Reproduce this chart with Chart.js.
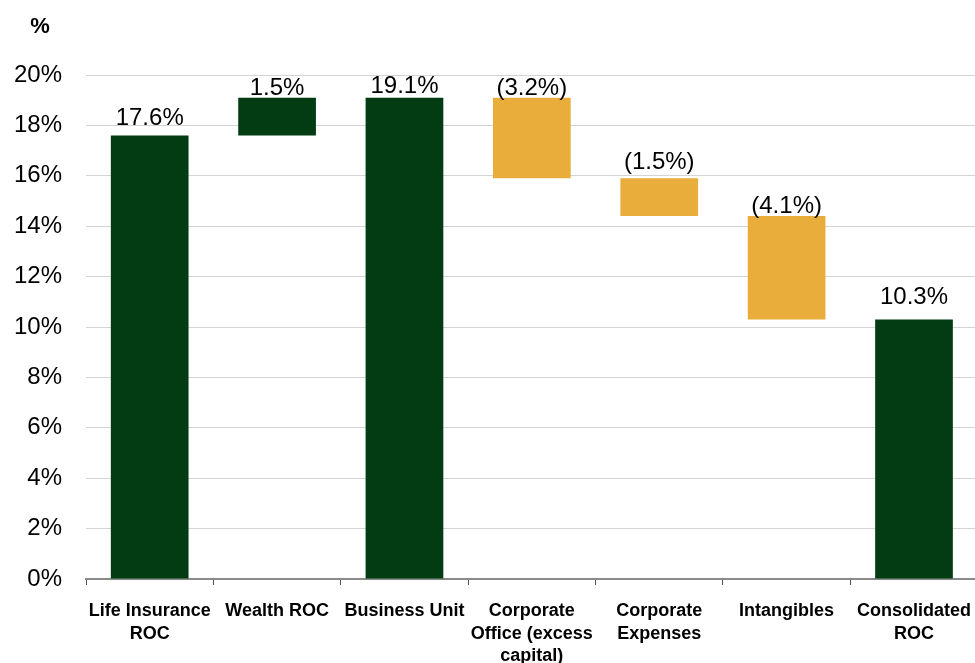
<!DOCTYPE html>
<html>
<head>
<meta charset="utf-8">
<script src="https://cdn.jsdelivr.net/npm/chart.js@4"></script>
<style>
  html, body { margin: 0; padding: 0; background: #fff; overflow: hidden; }
  canvas { display: block; }
</style>
</head>
<body>
<canvas id="c" width="986" height="663"></canvas>
<script>
// ROC bridge: segment contributions stepping to the consolidated figure
const categories = [
  ['Life Insurance', 'ROC'],
  ['Wealth ROC'],
  ['Business Unit'],
  ['Corporate', 'Office (excess', 'capital)'],
  ['Corporate', 'Expenses'],
  ['Intangibles'],
  ['Consolidated', 'ROC']
];
const values  = [17.6, 1.5, 19.1, -3.2, -1.5, -4.1, 10.3];
const isTotal = [true, false, true, false, false, false, true];
const yTicks  = [0, 2, 4, 6, 8, 10, 12, 14, 16, 18, 20];

// label lift above each bar top, in px
const labelGap = [10, 3, 5, 3, 9, 3, 15];

const GREEN = '#033c12';
const GOLD  = '#e8ad3b';
const FONT  = '"Liberation Sans", Arial, sans-serif';

// floating [start, end] ranges from the running total
const ranges = [];
let running = 0;
values.forEach((v, i) => {
  if (isTotal[i]) { ranges.push([0, v]); running = v; }
  else { ranges.push([running, running + v]); running += v; }
});
const colors = values.map(v => v < 0 ? GOLD : GREEN);
const fmt = v => v < 0 ? '(' + Math.abs(v).toFixed(1) + '%)' : v.toFixed(1) + '%';

const valueLabels = {
  id: 'valueLabels',
  afterDatasetsDraw(chart) {
    const ctx = chart.ctx;
    const meta = chart.getDatasetMeta(0);
    ctx.save();
    ctx.font = '24px ' + FONT;
    ctx.fillStyle = '#000';
    ctx.textAlign = 'center';
    ctx.textBaseline = 'alphabetic';
    meta.data.forEach((el, i) => {
      const top = Math.min(el.y, el.base);
      ctx.fillText(fmt(values[i]), el.x, top - labelGap[i]);
    });
    ctx.restore();
  }
};

const unitLabel = {
  id: 'unitLabel',
  afterDraw(chart) {
    const ctx = chart.ctx;
    ctx.save();
    ctx.font = 'bold 22px ' + FONT;
    ctx.fillStyle = '#000';
    ctx.textAlign = 'center';
    ctx.textBaseline = 'alphabetic';
    ctx.fillText('%', 40, 33);
    ctx.restore();
  }
};

new Chart(document.getElementById('c'), {
  type: 'bar',
  data: {
    labels: categories,
    datasets: [{
      data: ranges,
      backgroundColor: colors,
      borderWidth: 0,
      categoryPercentage: 1.0,
      barPercentage: 0.61
    }]
  },
  options: {
    responsive: false,
    animation: false,
    devicePixelRatio: 1,
    layout: { padding: { top: 75, right: 0, bottom: 0, left: 0 } },
    plugins: {
      legend: { display: false },
      title: { display: false },
      tooltip: { enabled: false }
    },
    scales: {
      x: {
        afterFit(s) { s.height = 84; },
        border: { display: true, color: '#8a8a8a', width: 2 },
        grid: { display: true, drawOnChartArea: false, drawTicks: true, tickLength: 6, color: '#555', lineWidth: 1 },
        ticks: {
          autoSkip: false, maxRotation: 0, minRotation: 0,
          padding: 15,
          color: '#000',
          font: { family: FONT, size: 18, weight: 'bold', lineHeight: 1.25 }
        }
      },
      y: {
        min: 0, max: 20,
        afterFit(s) { s.width = 86; },
        afterBuildTicks(s) { s.ticks = yTicks.map(v => ({ value: v })); },
        border: { display: false },
        grid: { color: '#d4d4d4', lineWidth: 1, drawTicks: false },
        ticks: {
          padding: 24,
          color: '#000',
          font: { family: FONT, size: 24 },
          callback: v => v + '%'
        }
      }
    }
  },
  plugins: [valueLabels, unitLabel]
});
</script>
</body>
</html>
